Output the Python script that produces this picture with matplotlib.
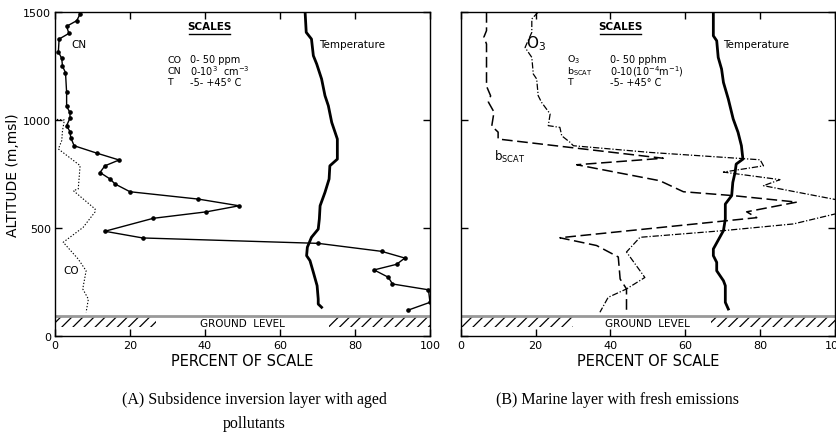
import matplotlib
matplotlib.use("Agg")
import matplotlib.pyplot as plt

plt.rcParams["font.family"] = ["DejaVu Sans"]
plt.rcParams["mathtext.default"] = "regular"
plt.rcParams["hatch.linewidth"] = 0.9

# ── Data (percent of scale vs altitude, m msl) ────────────────────────────────
# Panel A
cn_pct = [6.7, 5.8, 3.1, 3.7, 1.1, 0.9, 1.8, 2.0, 2.8, 3.1, 3.1, 4.0, 4.0, 3.1, 4.0, 4.2,
          5.1, 11.1, 17.1, 13.3, 12.0, 14.7, 16.0, 20.0, 38.2, 49.1, 40.4, 26.2, 13.3,
          23.4, 70.2, 87.1, 93.3, 91.1, 85.1, 88.9, 90.0, 99.6, 100.0, 94.2]
cn_alt = [1491, 1460, 1434, 1401, 1375, 1316, 1285, 1249, 1220, 1128, 1063, 1035, 1009, 974,
          946, 919, 881, 847, 815, 788, 757, 727, 704, 668, 634, 603, 575, 545, 485, 454,
          429, 392, 361, 332, 306, 272, 241, 214, 156, 120]

co_pct = [0.5, 2.5, 2.0, 1.8, 0.9, 6.7, 6.2, 4.9, 10.7, 10.7, 7.5, 2.2, 6.2, 8.3, 7.4, 8.9, 8.3]
co_alt = [1003, 1000, 950, 905, 866, 789, 681, 673, 588, 575, 503, 434, 356, 302, 218, 171, 110]

tempA_pct = [66.7, 67.0, 68.4, 68.9, 69.8, 71.1, 72.0, 72.9, 73.8, 74.7, 75.3, 75.3, 73.3,
             73.1, 72.0, 70.7, 70.5, 70.2, 68.4, 67.3, 67.1, 68.0, 68.9, 69.9, 70.2, 70.2, 71.1]
tempA_alt = [1500, 1406, 1375, 1298, 1259, 1190, 1113, 1066, 989, 943, 912, 819, 788, 727,
             665, 603, 542, 495, 457, 411, 372, 349, 295, 233, 171, 148, 133]

# Panel B
bscat_pct = [6.9, 6.9, 6.2, 6.9, 6.9, 8.0, 7.4, 8.9, 8.3, 10.0, 10.0, 54.1, 31.0, 53.2, 59.5,
             72.8, 89.8, 76.4, 79.1, 26.5, 36.3, 42.1, 42.6, 44.3, 44.3]
bscat_alt = [1500, 1414, 1384, 1352, 1157, 1112, 1083, 1037, 972, 944, 912, 823, 793, 719,
             668, 650, 620, 575, 548, 455, 419, 366, 264, 218, 110]

o3_pct = [20.7, 19.0, 19.0, 17.2, 19.0, 19.4, 20.3, 20.7, 21.6, 23.9, 23.4, 26.5, 27.0, 29.2,
          30.1, 50.6, 80.0, 80.9, 70.2, 85.3, 80.9, 100.4, 106.0, 100.0, 88.9, 70.2, 47.9,
          44.3, 49.2, 44.3, 39.4, 37.2]
o3_alt = [1500, 1468, 1406, 1336, 1290, 1213, 1190, 1113, 1082, 1028, 974, 966, 927, 897,
          881, 850, 816, 788, 759, 724, 696, 631, 600, 565, 519, 488, 457, 389, 271, 218,
          179, 110]

tempB_pct = [67.5, 67.5, 68.4, 68.8, 69.7, 70.2, 71.5, 72.8, 74.1, 75.0, 75.4, 73.6,
             73.3, 72.7, 72.4, 70.7, 70.7, 70.2, 67.5, 67.5, 68.4, 68.4, 70.2, 70.7, 70.7, 71.5]
tempB_alt = [1500, 1390, 1367, 1290, 1236, 1174, 1097, 1005, 943, 881, 819, 796, 757,
             711, 650, 611, 542, 488, 403, 372, 341, 302, 256, 233, 156, 125]

xticks = [0, 20, 40, 60, 80, 100]
yticks = [0, 500, 1000, 1500]
ground_alt = 93
hatch_bottom = 42

scalesA = [("CO", "0- 50 ppm"), ("CN", "0-10$^3$  cm$^{-3}$"), ("T", "-5- +45° C")]
scalesB = [("O$_3$", "0- 50 pphm"), ("b$_{SCAT}$", "0-10(10$^{-4}$m$^{-1}$)"), ("T", "-5- +45° C")]

# ── Figure ────────────────────────────────────────────────────────────────────
fig = plt.figure(figsize=(8.37, 4.39), dpi=100)
axA = fig.add_axes([0.0657, 0.2323, 0.448, 0.738])
axB = fig.add_axes([0.5504, 0.2323, 0.4472, 0.738])


def setup(ax, gap, show_y):
    ax.set_xlim(0, 100)
    ax.set_ylim(0, 1500)
    ax.set_xticks(xticks)
    ax.set_yticks(yticks)
    ax.tick_params(direction="in", top=True, right=True, length=5, width=1,
                   labelsize=8, pad=3)
    if not show_y:
        ax.set_yticklabels([])
    for s in ax.spines.values():
        s.set_linewidth(1.0)
    ax.set_xlabel("PERCENT OF SCALE", fontsize=10.5, labelpad=2)
    # ground level
    ax.axhline(ground_alt, color="#999999", lw=2, zorder=2)
    ax.fill_between([0, 100], hatch_bottom, ground_alt, facecolor="none",
                    edgecolor="black", hatch="///", lw=0, zorder=1)
    ax.fill_between(gap, hatch_bottom - 2, ground_alt - 3, facecolor="white",
                    edgecolor="none", zorder=1.5)
    ax.text(50, (ground_alt + hatch_bottom) / 2 - 5, "GROUND  LEVEL", ha="center",
            va="center", fontsize=7.5, zorder=3)


setup(axA, [27, 73], True)
setup(axB, [30, 67], False)
axA.set_ylabel("ALTITUDE (m,msl)", fontsize=10, labelpad=2)

# Panel A lines
axA.plot(cn_pct, cn_alt, color="black", lw=1.0, marker="o", ms=2.3)
axA.plot(co_pct, co_alt, color="black", lw=0.8, ls=(0, (1.2, 1.6)))
axA.plot(tempA_pct, tempA_alt, color="black", lw=2.0)
axA.text(4.5, 1352, "CN", fontsize=7.5, va="center")
axA.text(2.2, 307, "CO", fontsize=7.5, va="center")
axA.text(70.5, 1352, "Temperature", fontsize=7.5, va="center")

# Panel B lines
axB.plot(bscat_pct, bscat_alt, color="black", lw=1.1, ls=(0, (7, 3)))
axB.plot(o3_pct, o3_alt, color="black", lw=0.9, ls=(0, (5, 1.5, 1, 1.5)))
axB.plot(tempB_pct, tempB_alt, color="black", lw=2.0)
axB.text(17.5, 1360, "O$_3$", fontsize=11, va="center")
axB.text(9.0, 833, "b$_{SCAT}$", fontsize=8.5, va="center")
axB.text(70.0, 1352, "Temperature", fontsize=7.5, va="center")


def scales(ax, xc, x1, x2, rows):
    ax.text(xc, 1412, "SCALES", ha="center", va="bottom", fontsize=7.5, fontweight="bold")
    ax.plot([xc - 5.5, xc + 5.5], [1400, 1400], color="black", lw=1.0)
    for i, (k, v) in enumerate(rows):
        y = 1282 - i * 52
        ax.text(x1, y, k, fontsize=6.8, va="center")
        ax.text(x2, y, v, fontsize=7, va="center")


scales(axA, 41.3, 30.0, 36.0, scalesA)
scales(axB, 42.8, 28.5, 40.0, scalesB)

# Captions
cap = dict(ha="center", va="top", fontsize=11.5, linespacing=1.7,
           family=["Liberation Serif"])
fig.text(0.3035, 0.108, "(A) Subsidence inversion layer with aged\npollutants", **cap)
fig.text(0.738, 0.108, "(B) Marine layer with fresh emissions", **cap)

fig.savefig("out.png", dpi=100)
